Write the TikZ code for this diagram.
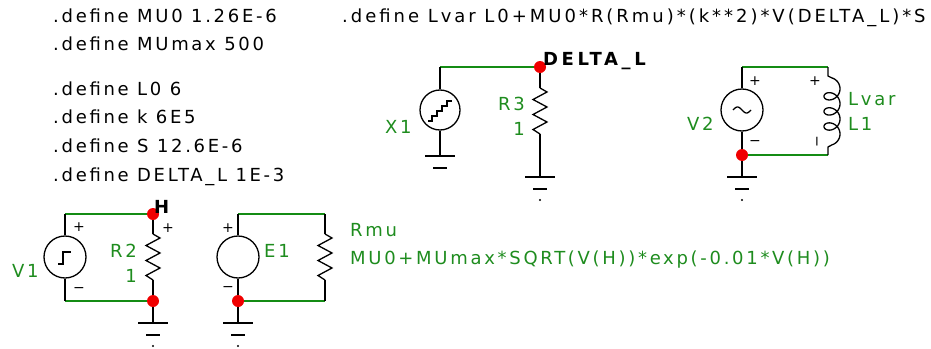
\documentclass[tikz,border=0pt]{standalone}
\usepackage{fontspec}
\setmainfont{DejaVu Sans}[LetterSpace=15]
\usepackage{tikz}
\definecolor{wiregreen}{RGB}{20,140,20}
\definecolor{labelgreen}{RGB}{30,140,30}
\definecolor{dotred}{RGB}{240,0,0}

\begin{document}
\begin{tikzpicture}[x=1pt,y=-1pt,
  wire/.style={wiregreen,line width=1.5pt},
  lead/.style={black,line width=1.3pt},
  src/.style={circle,draw,line width=1.3pt,minimum size=42pt,inner sep=0pt},
  txt/.style={inner sep=0pt,anchor=base west,font=\fontsize{18}{21}\selectfont},
  lbl/.style={inner sep=0pt,text=labelgreen,font=\fontsize{18}{21}\selectfont},
  sgn/.style={inner sep=0pt,font=\fontsize{14}{14}\selectfont}]
\useasboundingbox (0,0) rectangle (931,348);

% Definicoes
\node[txt] (dMU0) at (53,22) {.define MU0 1.26E-6};
\node[txt] (dMUmax) at (53,50) {.define MUmax 500};
\node[txt] (dL0) at (53,95) {.define L0 6};
\node[txt] (dk) at (53,123) {.define k 6E5};
\node[txt] (dS) at (53,152) {.define S 12.6E-6};
\node[txt] (dDL) at (53,181) {.define DELTA\_L 1E-3};
\node[txt] (dLvar) at (342,22) {\addfontfeatures{LetterSpace=16.5}.define Lvar L0+MU0*R(Rmu)*(k**2)*V(DELTA\_L)*S};

% Terminais e terras
\coordinate (v1t) at (65,214);
\coordinate (H) at (153,214);
\coordinate (v1b) at (65,301);
\coordinate (r2b) at (153,301);
\coordinate (e1t) at (238,214);
\coordinate (rmut) at (325,214);
\coordinate (e1b) at (238,301);
\coordinate (rmub) at (325,301);
\coordinate (x1t) at (440,67);
\coordinate (DL) at (540,67);
\coordinate (v2t) at (742,67);
\coordinate (l1t) at (828,67);
\coordinate (v2b) at (742,155);
\coordinate (l1b) at (828,155);
\coordinate (g1) at (153,323);
\coordinate (g2) at (238,323);
\coordinate (g3) at (440,156);
\coordinate (g4) at (540,177);
\coordinate (g5) at (742,177);

% Fios
\draw[wire] (v1t) -- (H);
\draw[wire] (v1b) -- (r2b);
\draw[wire] (e1t) -- (rmut);
\draw[wire] (e1b) -- (rmub);
\draw[wire] (x1t) -- (DL);
\draw[wire] (v2t) -- (l1t);
\draw[wire] (v2b) -- (l1b);

% Resistores
\foreach \x/\y in {153/257, 325/257, 540/111} {
  \begin{scope}[shift={(\x,\y)}]
    \draw[lead,line join=miter] (0,-23) -- (7,-19) -- (-7,-11.5) -- (7,-4)
      -- (-7,3.5) -- (7,11) -- (-7,18.5) -- (0,23);
  \end{scope}
}
\draw[lead] (H) -- +(0,20) (r2b) -- +(0,-21);
\draw[lead] (rmut) -- +(0,20) (rmub) -- +(0,-21);
\draw[lead] (DL) -- +(0,21) (g4) -- +(0,-43);

% Terras
\foreach \g in {g1,g2,g3,g4,g5} {
  \begin{scope}[shift={(\g)}]
    \draw[lead] (-15,0) -- (15,0);
    \draw[lead] (-7,12) -- (7,12);
  \end{scope}
}
\foreach \g in {g1,g2,g4,g5} {
  \fill ([yshift=-23pt]\g) circle (1.2);
}
\draw[lead] (r2b) -- (g1);
\draw[lead] (e1b) -- (g2);
\draw[lead] (v2b) -- (g5);

% V1
\node[src] (V1) at (65,257) {};
\draw[lead] (v1t) -- (V1.north) (V1.south) -- (v1b);
\draw[lead] ([shift={(-7,7)}]V1.center) -- ++(5,0) -- ++(0,-12) -- ++(8,0);
\node[sgn] (V1p) at (79,227) {+};
\node[sgn] (V1m) at (79,290) {−};

% E1
\node[src] (E1) at (238,257) {};
\draw[lead] (e1t) -- (E1.north) (E1.south) -- (e1b);
\node[sgn] (E1p) at (228,228) {+};
\node[sgn] (E1m) at (228,289) {−};
\node[sgn] (R2p) at (168,228) {+};

% X1
\node[src,minimum size=40pt] (X1) at (440,110) {};
\draw[lead] (x1t) -- (X1.north) (X1.south) -- (g3);
\draw[lead] ([shift={(-12,11)}]X1.center) -- ++(4,0)
  \foreach \k in {1,...,4} { -- ++(0,-5) -- ++(5,0) };

% V2
\node[src] (V2) at (742,110) {};
\draw[lead] (v2t) -- (V2.north) (V2.south) -- (v2b);
\begin{scope}[shift={(V2.center)}]
  \draw[lead] plot[domain=-9:9,samples=30,smooth] ({\x},{3*sin(20*\x)});
\end{scope}
\node[sgn] (V2p) at (755,81) {+};
\node[sgn] (V2m) at (755,143) {−};

% L1
\draw[lead] (l1t) -- (828,76) -- plot[domain=90:1350,samples=150,smooth,variable=\t]
  ({832-8*cos(\t)},{81.2+\t/360*15.1-7*sin(\t)}) -- (828,147) -- (l1b);
\node[sgn] (L1p) at (815,81) {+};
\node[sgn,rotate=90] (L1m) at (819,142) {−};

% Nos
\foreach \n in {H,r2b,e1b,DL,v2b} {
  \fill[dotred] (\n) circle (6);
}

% Rotulos
\node[lbl,anchor=base west] (lV1) at (12,277) {V1};
\node[lbl,anchor=base east] (lR2) at (137,257) {R2};
\node[lbl,anchor=base east] (vR2) at (137,282) {1};
\node[lbl,anchor=base west] (lE1) at (264,257) {E1};
\node[txt,font=\fontsize{18}{21}\selectfont\bfseries] (lH) at (154,213) {H};
\node[lbl,anchor=base west] (lRmu) at (350,236) {Rmu};
\node[lbl,anchor=base west] (vRmu) at (350,264) {MU0+MUmax*SQRT(V(H))*exp(-0.01*V(H))};
\node[lbl,anchor=base west] (lX1) at (385,133) {X1};
\node[lbl,anchor=base east] (lR3) at (525,110) {R3};
\node[lbl,anchor=base east] (vR3) at (525,135) {1};
\node[txt,font=\fontsize{18}{21}\selectfont\bfseries] (lDL) at (543,65) {\addfontfeatures{LetterSpace=20}DELTA\_L};
\node[lbl,anchor=base west] (lV2) at (687,130) {V2};
\node[lbl,anchor=base west] (lLvar) at (848,105) {Lvar};
\node[lbl,anchor=base west] (lL1) at (848,130) {L1};
\end{tikzpicture}
\end{document}
